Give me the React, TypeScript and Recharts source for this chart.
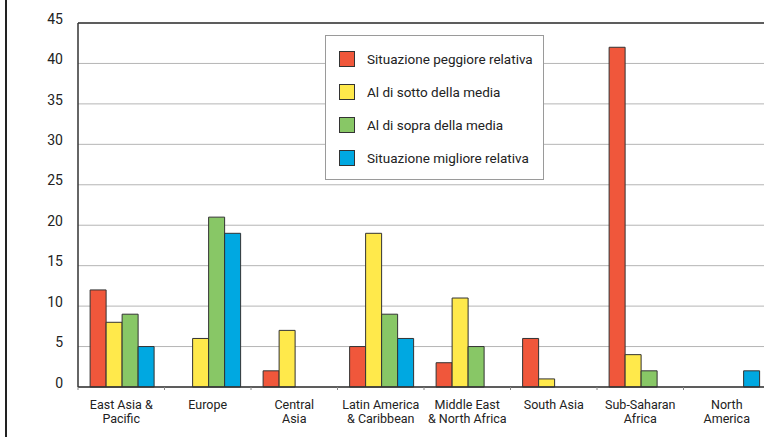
import React from "react";
import { BarChart, Bar, XAxis, YAxis, CartesianGrid, ReferenceLine } from "recharts";

const categories = [
  "East Asia &\nPacific",
  "Europe",
  "Central\nAsia",
  "Latin America\n& Caribbean",
  "Middle East\n& North Africa",
  "South Asia",
  "Sub-Saharan\nAfrica",
  "North\nAmerica",
];
const peggiore = [12, 0, 2, 5, 3, 6, 42, 0];
const sotto = [8, 6, 7, 19, 11, 1, 4, 0];
const sopra = [9, 21, 0, 9, 5, 0, 2, 0];
const migliore = [5, 19, 0, 6, 0, 0, 0, 2];
const yTicks = [0, 5, 10, 15, 20, 25, 30, 35, 40, 45];

const seriesNames = [
  "Situazione peggiore relativa",
  "Al di sotto della media",
  "Al di sopra della media",
  "Situazione migliore relativa",
];
const seriesKeys = ["peggiore", "sotto", "sopra", "migliore"];
const seriesColors = ["#F0573B", "#FFE94B", "#88C766", "#00A8E1"];

const data = categories.map((c, i) => ({
  name: c,
  peggiore: peggiore[i],
  sotto: sotto[i],
  sopra: sopra[i],
  migliore: migliore[i],
}));

const FONT = "Roboto, 'Liberation Sans Narrow', sans-serif";

const XTick = (props: any) => {
  const { x, y, payload } = props;
  const lines = String(payload.value).split("\n");
  const off = payload.offset || 0;
  return (
    <g>
      <line x1={x - off} x2={x - off} y1={y - 8} y2={y - 5} stroke="#888" strokeWidth={1} />
      {lines.map((l, i) => (
        <text key={i} x={x} y={y + 14 + i * 13.5} textAnchor="middle" fontFamily={FONT} fontSize={12.5} fill="#222">
          {l}
        </text>
      ))}
    </g>
  );
};

const YTick = (props: any) => {
  const { y, payload } = props;
  return (
    <text x={63} y={y - 3} textAnchor="end" dominantBaseline="middle" fontFamily={FONT} fontSize={14} fill="#222">
      {payload.value}
    </text>
  );
};

const LegendBox = () => (
  <div
    style={{
      position: "absolute",
      left: 325,
      top: 35,
      border: "1px solid #9a9a9a",
      background: "#fff",
      width: 219,
      padding: "6px 0 5px 0",
      boxSizing: "border-box",
      fontFamily: FONT,
      fontSize: 13.5,
      color: "#222",
    }}
  >
    {seriesNames.map((n, i) => (
      <div key={n} style={{ height: 33, display: "flex", alignItems: "center", whiteSpace: "nowrap" }}>
        <span
          style={{
            display: "inline-block",
            width: 14,
            height: 14,
            marginLeft: 13,
            marginRight: 12,
            background: seriesColors[i],
            border: "1px solid #333",
            flex: "none",
          }}
        />
        <span>{n}</span>
      </div>
    ))}
  </div>
);

export default function App() {
  return (
    <div
      style={{
        position: "absolute",
        left: 0,
        top: 0,
        width: 764,
        height: 437,
        overflow: "hidden",
        background: "#fff",
      }}
    >
      <div style={{ position: "absolute", left: 5, top: 0, width: 2, height: 437, background: "#222" }} />
      <BarChart
        width={780}
        height={437}
        data={data}
        margin={{ top: 23, right: 10, left: 0, bottom: 10 }}
        barCategoryGap="14%"
        barGap={0}
      >
        <CartesianGrid vertical={false} stroke="#b5b5b5" strokeWidth={1} />
        <ReferenceLine y={45} stroke="#333" strokeWidth={1.5} />
        <XAxis
          dataKey="name"
          interval={0}
          height={40}
          axisLine={{ stroke: "#333", strokeWidth: 1.5 }}
          tickLine={false}
          tick={<XTick />}
        />
        <YAxis
          width={78}
          domain={[0, 45]}
          ticks={yTicks}
          axisLine={{ stroke: "#333", strokeWidth: 1.5 }}
          tickLine={false}
          tick={<YTick />}
          interval={0}
        />
        {seriesKeys.map((k, i) => (
          <Bar
            key={k}
            dataKey={k}
            name={seriesNames[i]}
            fill={seriesColors[i]}
            stroke="#333"
            strokeWidth={1}
            isAnimationActive={false}
          />
        ))}
      </BarChart>
      <LegendBox />
    </div>
  );
}
